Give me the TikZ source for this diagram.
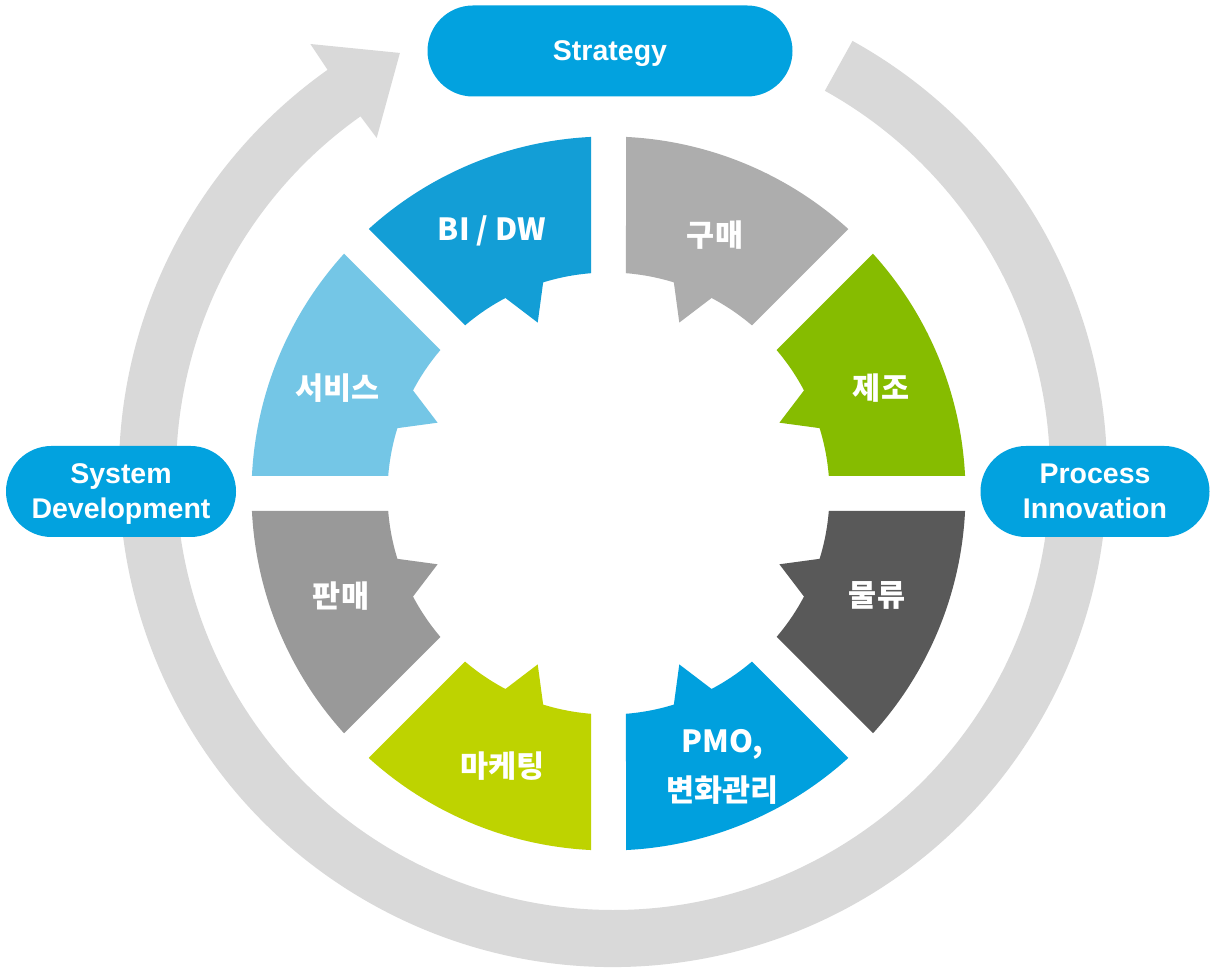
\documentclass[tikz,border=0pt]{standalone}
\usepackage{fontspec}
\setmainfont{Liberation Sans}
\newfontfamily\krfont{Noto Sans CJK KR}
\definecolor{pillblue}{HTML}{02A2DF}
\definecolor{ringgray}{HTML}{D9D9D9}
\definecolor{zejo}{HTML}{86BC00}
\definecolor{gumae}{HTML}{ADADAD}
\definecolor{bidw}{HTML}{139ED6}
\definecolor{service}{HTML}{74C6E6}
\definecolor{panmae}{HTML}{999999}
\definecolor{marketing}{HTML}{BED300}
\definecolor{pmo}{HTML}{00A0DE}
\definecolor{mulryu}{HTML}{595959}
\begin{document}
\begin{tikzpicture}[x=1pt,y=1pt,
  pill/.style={rounded corners=45.5pt,fill=pillblue,text=white,align=center,
    minimum height=91pt,inner sep=0pt,text depth=0pt,
    font=\fontsize{28.5}{35}\selectfont\bfseries},
  seglabel/.style={text=white,align=center,inner sep=0pt,
    font=\krfont\fontsize{30.5}{49}\selectfont\bfseries}]
  \fill[white] (0,0) rectangle (1216,973);
  \useasboundingbox (0,0) rectangle (1216,973);
  \coordinate (w) at (608.5,479.5);
  \coordinate (rc) at (613,500);
  % grey ring arrow
  \fill[ringgray,shift={(rc)}] (61:494) arc[start angle=61,end angle=-234.7,radius=494pt]
    -- (125.2:525) -- (116.9:471) -- (125.2:410) -- (125.3:437)
    arc[start angle=-234.7,end angle=61,radius=437pt] -- cycle;
  \node[pill,minimum width=365pt] (strategy) at (610,922) {Strategy};
  \node[pill,minimum width=230pt] (sysdev) at (121,481.5) {System\\Development};
  \node[pill,minimum width=229pt] (procinno) at (1095,481.5) {Process\\Innovation};
  % wheel segments
  \foreach \a/\col/\lx/\ly/\txt in {0/zejo/881/585/제조,45/gumae/715/738/구매,
      90/bidw/492/742/{BI / DW},135/service/337.5/585/서비스,180/panmae/341/377/판매,
      225/marketing/502.5/207/마케팅,270/pmo/722.5/206.3/{PMO,\\변화관리},315/mulryu/877/377.5/물류}{
    \pgfmathsetmacro\m{\a+22.5}
    \pgfmathsetmacro\os{\a+2.81}
    \pgfmathsetmacro\oe{\a+42.19}
    \pgfmathsetmacro\is{\a+40.46}
    \pgfmathsetmacro\ie{\a+4.54}
    \pgfmathsetmacro\ta{\m+5.3}
    \pgfmathsetmacro\tb{\m-5.3}
    \fill[\col,shift={(w)}] (\os:357) arc[start angle=\os,end angle=\oe,radius=357pt]
      -- (\is:221) arc[start angle=\is,end angle=\ta,radius=221pt]
      -- (\m:185) -- (\tb:221) arc[start angle=\tb,end angle=\ie,radius=221pt] -- cycle;
    \node[seglabel] (lab\a) at (\lx,\ly) {\txt};
  }
\end{tikzpicture}
\end{document}
